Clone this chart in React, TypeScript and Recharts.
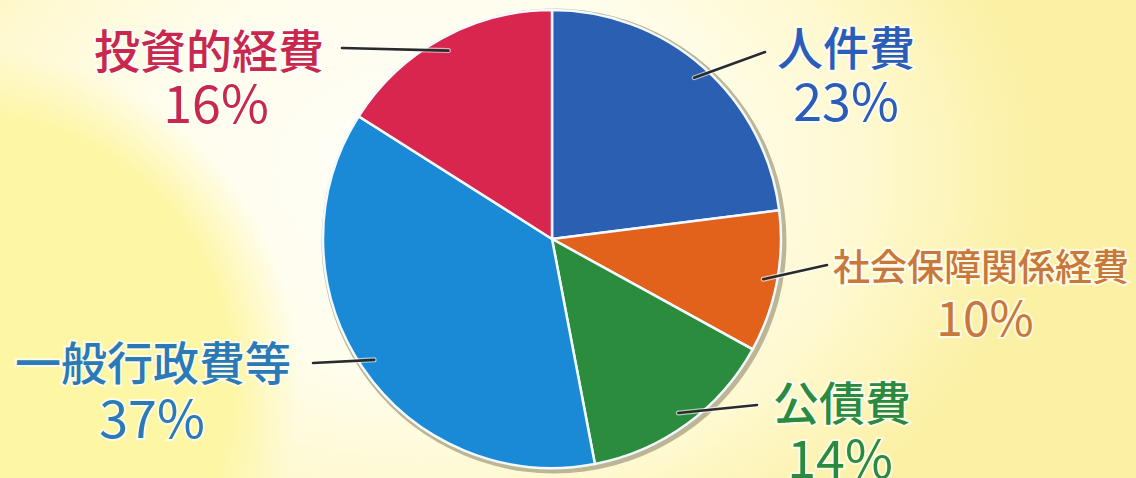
import React from 'react';
import { PieChart, Pie, Cell } from 'recharts';

const categories = ['人件費', '社会保障関係経費', '公債費', '一般行政費等', '投資的経費'];
const shares = [23, 10, 14, 37, 16];
const pctLabels = ['23%', '10%', '14%', '37%', '16%'];

const sliceColors = ['#2b5fb2', '#e2621c', '#2a8c3c', '#1a8ad6', '#d9264f'];
const textColors = ['#2a5db8', '#c8783a', '#2a8a3e', '#2a7ab8', '#c8284e'];

// label layout (relative to pie centre)
const labelLayout = [
  { ex: 213, ey: -187, tx: 294, ty: -194, px: 294, py: -141, size: 46, psize: 52 },
  { ex: 275, ey: 26, tx: 429, ty: 26, px: 433, py: 76, size: 37, psize: 48 },
  { ex: 205, ey: 166, tx: 290, ty: 161, px: 288, py: 216, size: 46, psize: 52 },
  { ex: -239, ey: 124, tx: -399, ty: 121, px: -400, py: 176, size: 46, psize: 52 },
  { ex: -210, ey: -191, tx: -343, ty: -191, px: -336, py: -139, size: 46, psize: 52 },
];

const data = categories.map((name, i) => ({ name, value: shares[i], pct: pctLabels[i] }));
const rimData = [{ name: 'rim', value: 1 }];

const RAD = Math.PI / 180;
const FONT = '"Noto Sans CJK JP", "Noto Sans", sans-serif';

const renderLabel = (props: any) => {
  const { cx, cy, midAngle, outerRadius, index } = props;
  const L = labelLayout[index];
  const r = outerRadius - 14;
  const sx = cx + r * Math.cos(-midAngle * RAD);
  const sy = cy + r * Math.sin(-midAngle * RAD);
  const color = textColors[index];
  return (
    <g key={`lbl-${index}`}>
      <line x1={sx} y1={sy} x2={cx + L.ex} y2={cy + L.ey} stroke="#ffffff" strokeWidth={5} strokeLinecap="round" opacity={0.6} />
      <line x1={sx} y1={sy} x2={cx + L.ex} y2={cy + L.ey} stroke="#2b2b2b" strokeWidth={2.6} strokeLinecap="round" />
      <text
        x={cx + L.tx}
        y={cy + L.ty}
        textAnchor="middle"
        dominantBaseline="central"
        fill={color}
        stroke="#ffffff"
        strokeWidth={4}
        strokeOpacity={0.7}
        paintOrder="stroke"
        fontFamily={FONT}
        fontSize={L.size}
        fontWeight={500}
      >
        {categories[index]}
      </text>
      <text
        x={cx + L.px}
        y={cy + L.py}
        textAnchor="middle"
        dominantBaseline="central"
        fill={color}
        stroke="#ffffff"
        strokeWidth={4}
        strokeOpacity={0.7}
        paintOrder="stroke"
        fontFamily={FONT}
        fontSize={L.psize}
        fontWeight={400}
      >
        {pctLabels[index]}
      </text>
    </g>
  );
};

export default function App() {
  const W = 1136;
  const H = 478;
  const cx = 552;
  const cy = 239;
  const R = 229;
  return (
    <div
      style={{
        position: 'absolute',
        left: 0,
        top: 0,
        width: W,
        height: H,
        overflow: 'hidden',
        background:
          'radial-gradient(circle at -30px 380px, #fdf6a4 0px, #fdf6a4 260px, rgba(253,246,164,0) 330px),' +
          'radial-gradient(ellipse 620px 460px at 420px 170px, #fffef8 0%, #fffdec 45%, #fef9d0 72%, rgba(253,244,176,0) 100%),' +
          'linear-gradient(#fbf0a3, #fbf0a3)',
      }}
    >
      <PieChart width={W} height={H} margin={{ top: 0, right: 0, bottom: 0, left: 0 }}>
        <Pie
          data={rimData}
          dataKey="value"
          cx={cx + 2}
          cy={cy + 2}
          outerRadius={R + 3.5}
          startAngle={90}
          endAngle={-270}
          fill="#bdb696"
          stroke="none"
          isAnimationActive={false}
          legendType="none"
        />
        <Pie
          data={data}
          dataKey="value"
          nameKey="name"
          cx={cx}
          cy={cy}
          outerRadius={R}
          startAngle={90}
          endAngle={-270}
          stroke="#f2faff"
          strokeWidth={2.5}
          label={renderLabel}
          labelLine={false}
          isAnimationActive={false}
        >
          {data.map((d, i) => (
            <Cell key={d.name} fill={sliceColors[i]} />
          ))}
        </Pie>
      </PieChart>
    </div>
  );
}
